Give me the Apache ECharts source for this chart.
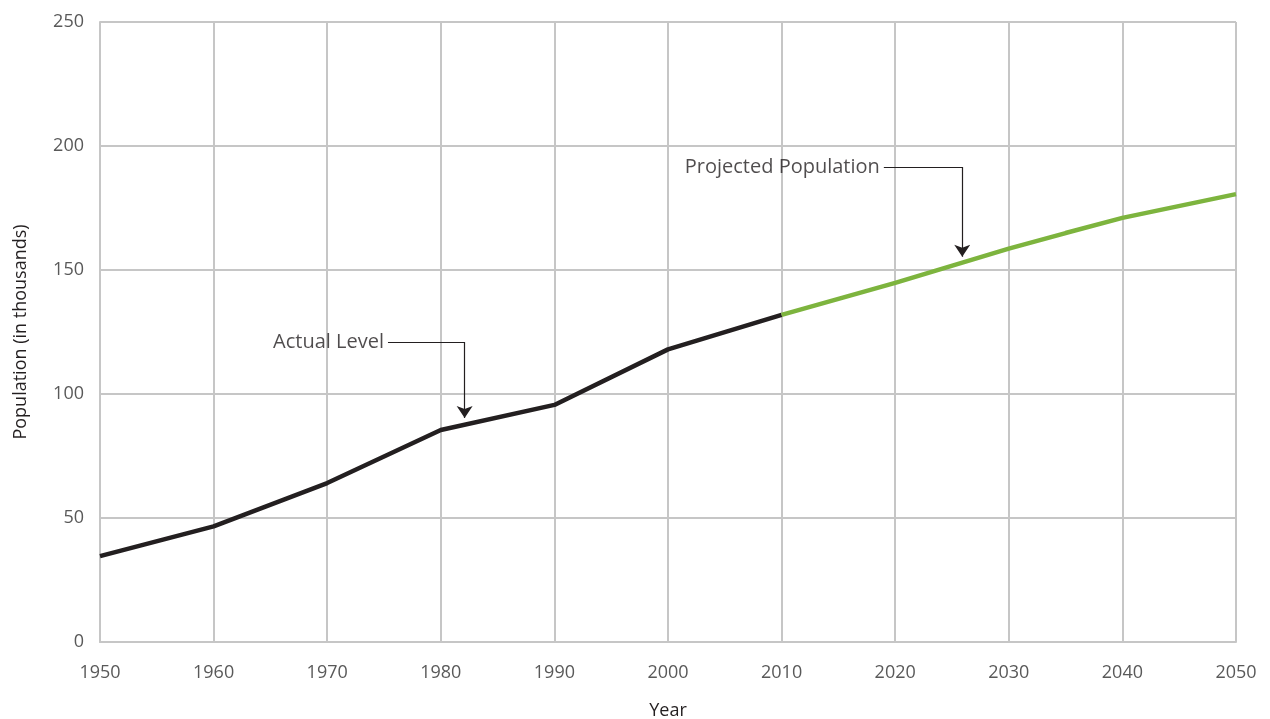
<!DOCTYPE html>
<html>
<head>
<meta charset="utf-8">
<script src="https://cdn.jsdelivr.net/npm/echarts@6/dist/echarts.min.js"></script>
<style>html,body{margin:0;padding:0;background:#fff}#c{width:1270px;height:719px}</style>
</head>
<body>
<div id="c"></div>
<script>
const actualYears = [1950, 1960, 1970, 1980, 1990, 2000, 2010];
const actualValues = [34.6, 46.6, 64.1, 85.5, 95.6, 118, 131.9];
const projYears = [2010, 2020, 2030, 2035, 2040, 2050];
const projValues = [131.9, 144.8, 158.6, 164.9, 171, 180.6];
const yTicks = [0, 50, 100, 150, 200, 250];
const xTicks = [1950, 1960, 1970, 1980, 1990, 2000, 2010, 2020, 2030, 2040, 2050];
// annotations: text, label anchor, corner, arrow tip (data coords)
const annotations = [
  { text: 'Actual Level', path: [[1975.35, 121], [1982.1, 121], [1982.1, 90.3]] },
  { text: 'Projected Population', path: [[2019.0, 191.5], [2025.9, 191.5], [2025.9, 155.3]] }
];

const font = '"Segoe UI", "Open Sans", "Noto Sans", sans-serif';
const chart = echarts.init(document.getElementById('c'));
chart.setOption({
  animation: false,
  grid: { left: 100, right: 34, top: 22, bottom: 77, outerBoundsMode: 'none' },
  xAxis: {
    type: 'value', min: xTicks[0], max: xTicks[xTicks.length - 1], interval: 10,
    name: 'Year', nameLocation: 'middle', nameGap: 60,
    nameTextStyle: { fontFamily: font, fontSize: 18, color: '#231f20' },
    axisLine: { show: true, lineStyle: { color: '#c6c6c6', width: 2 } },
    axisTick: { show: false },
    axisLabel: { fontFamily: font, fontSize: 18, color: '#595959', margin: 22, formatter: v => String(v) },
    splitLine: { show: true, lineStyle: { color: '#c6c6c6', width: 2 } }
  },
  yAxis: {
    type: 'value', min: yTicks[0], max: yTicks[yTicks.length - 1], interval: 50,
    name: 'Population (in thousands)', nameLocation: 'middle', nameGap: 70,
    nameTextStyle: { fontFamily: font, fontSize: 18, color: '#231f20' },
    axisLine: { show: true, lineStyle: { color: '#c6c6c6', width: 2 } },
    axisTick: { show: false },
    axisLabel: { fontFamily: font, fontSize: 18, color: '#595959', margin: 16 },
    splitLine: { show: true, lineStyle: { color: '#c6c6c6', width: 2 } }
  },
  series: [
    {
      type: 'line', data: actualYears.map((y, i) => [y, actualValues[i]]),
      symbol: 'none', lineStyle: { color: '#231f20', width: 4.5 }, z: 3
    },
    {
      type: 'line', data: projYears.map((y, i) => [y, projValues[i]]),
      symbol: 'none', lineStyle: { color: '#7db43e', width: 4.5 }, z: 3
    },
    {
      type: 'lines', coordinateSystem: 'cartesian2d', z: 5,
      symbol: ['none', 'none'],
      lineStyle: { color: '#231f20', width: 1.2, opacity: 1 },
      data: annotations.map(a => ({ coords: [a.path[0], a.path[1]] }))
    },
    {
      type: 'lines', coordinateSystem: 'cartesian2d', z: 5,
      symbol: ['none', 'arrow'], symbolSize: [9, 12],
      lineStyle: { color: '#231f20', width: 1.2, opacity: 1 },
      itemStyle: { color: '#231f20' },
      data: annotations.map(a => ({ coords: [a.path[1], a.path[2]] }))
    },
    {
      type: 'scatter', symbolSize: 0, z: 6,
      data: annotations.map(a => ({ value: a.path[0], name: a.text })),
      label: {
        show: true, position: 'left', distance: 4, formatter: p => p.name,
        fontFamily: font, fontSize: 20, color: '#231f20'
      }
    }
  ]
});
</script>
</body>
</html>
